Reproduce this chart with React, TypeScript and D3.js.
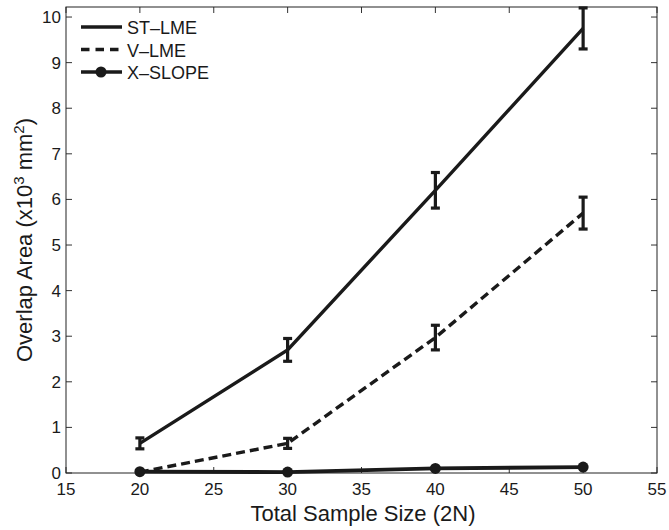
import React from "react";
import * as d3 from "d3";

const sampleSizes = [20, 30, 40, 50];
const stLme = [0.65, 2.7, 6.2, 9.75];
const stLmeErr = [0.12, 0.25, 0.39, 0.45];
const vLme = [0.02, 0.65, 2.97, 5.7];
const vLmeErr = [0, 0.11, 0.27, 0.35];
const xSlope = [0.03, 0.02, 0.1, 0.13];
const xTicks = [15, 20, 25, 30, 35, 40, 45, 50, 55];
const yTicks = [0, 1, 2, 3, 4, 5, 6, 7, 8, 9, 10];
const legendLabels = ["ST\u2013LME", "V\u2013LME", "X\u2013SLOPE"];

const W = 669, H = 530;
const L = 66, R = 657, T = 7, B = 473;

export default function App() {
  const x = d3.scaleLinear().domain([15, 55]).range([L, R]);
  const y = d3.scaleLinear().domain([0, 10.22]).range([B, T]);
  const line = d3.line<number>().x((_, i) => x(sampleSizes[i])).y((d) => y(d));
  const font = "'Liberation Sans', Arial, Helvetica, sans-serif";
  const tickLen = 6;
  const ink = "#1a1a1a";

  const errBars = (vals: number[], errs: number[], key: string) =>
    vals.map((v, i) => {
      if (errs[i] <= 0) return null;
      const cx = x(sampleSizes[i]);
      const y1 = y(v + errs[i]);
      const y2 = y(v - errs[i]);
      return (
        <g key={key + i} stroke={ink} strokeWidth={3.2}>
          <line x1={cx} x2={cx} y1={y1} y2={y2} />
          <line x1={cx - 4.5} x2={cx + 4.5} y1={y1} y2={y1} />
          <line x1={cx - 4.5} x2={cx + 4.5} y1={y2} y2={y2} />
        </g>
      );
    });

  return (
    <svg width={W} height={H} style={{ position: "absolute", left: 0, top: 0, background: "#fff" }} fontFamily={font}>
      <rect x={0} y={0} width={W} height={H} fill="#fff" />
      {/* ticks */}
      <g stroke="#333" strokeWidth={1}>
        {xTicks.map((t) => (
          <g key={"xt" + t}>
            <line x1={x(t)} x2={x(t)} y1={B} y2={B - tickLen} />
            <line x1={x(t)} x2={x(t)} y1={T} y2={T + tickLen} />
          </g>
        ))}
        {yTicks.map((t) => (
          <g key={"yt" + t}>
            <line x1={L} x2={L + tickLen} y1={y(t)} y2={y(t)} />
            <line x1={R} x2={R - tickLen} y1={y(t)} y2={y(t)} />
          </g>
        ))}
      </g>
      <rect x={L} y={T} width={R - L} height={B - T} fill="none" stroke="#222" strokeWidth={1} />
      {/* tick labels */}
      <g fontSize={17} fill={ink}>
        {xTicks.map((t) => (
          <text key={"xl" + t} x={x(t)} y={B + 22} textAnchor="middle">{t}</text>
        ))}
        {yTicks.map((t) => (
          <text key={"yl" + t} x={L - 5} y={y(t) + 6} textAnchor="end">{t}</text>
        ))}
      </g>
      {/* axis labels */}
      <text x={363} y={521} textAnchor="middle" fontSize={22} fill={ink}>Total Sample Size (2N)</text>
      <text transform={`translate(32, ${(T + B) / 2}) rotate(-90)`} textAnchor="middle" fontSize={22} fill={ink}>
        Overlap Area (x10<tspan dy={-8} fontSize={15}>3</tspan><tspan dy={8}> mm</tspan><tspan dy={-8} fontSize={15}>2</tspan><tspan dy={8}>)</tspan>
      </text>
      {/* lines */}
      <path d={line(stLme) || ""} fill="none" stroke={ink} strokeWidth={3.4} />
      <path d={line(vLme) || ""} fill="none" stroke={ink} strokeWidth={3.4} strokeDasharray="9,5" />
      <path d={line(xSlope) || ""} fill="none" stroke={ink} strokeWidth={3.8} />
      {xSlope.map((v, i) => (
        <circle key={"xs" + i} cx={x(sampleSizes[i])} cy={y(v)} r={5.5} fill={ink} />
      ))}
      {errBars(stLme, stLmeErr, "st")}
      {errBars(vLme, vLmeErr, "v")}
      {/* legend */}
      <g fontSize={18} fill={ink}>
        {legendLabels.map((lab, i) => {
          const ly = 27 + i * 22.5;
          return (
            <g key={lab}>
              <line x1={81} x2={122} y1={ly} y2={ly} stroke={ink} strokeWidth={3.4}
                strokeDasharray={i === 1 ? "8.5,6" : undefined} />
              {i === 2 && <circle cx={101} cy={ly} r={5.5} fill={ink} />}
              <text x={127} y={ly + 7}>{lab}</text>
            </g>
          );
        })}
      </g>
    </svg>
  );
}
